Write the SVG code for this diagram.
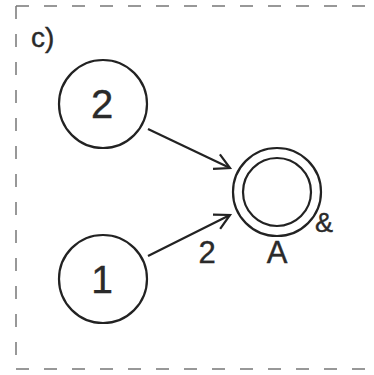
<svg xmlns="http://www.w3.org/2000/svg" width="374" height="375" viewBox="0 0 374 375">
<style>
.node{fill:none;stroke:#222;stroke-width:2.2}
.lbl{font-family:"Liberation Sans",Arial,sans-serif;fill:#2a2a2a;stroke:#2a2a2a;stroke-width:0.4;text-anchor:middle}
.edge{stroke:#222;stroke-width:2.2;fill:none}
.frame{stroke:#777;stroke-width:1.5;fill:none;stroke-dasharray:13 15}
</style>
<defs>
<marker id="arr" viewBox="0 0 20 20" refX="17" refY="10" markerWidth="20" markerHeight="20" markerUnits="userSpaceOnUse" orient="auto">
<polyline points="2,2 17,10 2,18" fill="none" stroke="#222" stroke-width="2.2"/>
</marker>
</defs>
<rect width="374" height="375" fill="#fff"/>
<path class="frame" d="M16,6 H374 M16,369 H374 M16,6 V369"/>
<text class="lbl" x="31" y="47" font-size="28" style="text-anchor:start">c)</text>
<g id="n2">
<circle class="node" cx="103" cy="104" r="44"/>
<text class="lbl" x="102" y="118" font-size="40">2</text>
</g>
<g id="n1">
<circle class="node" cx="103" cy="279" r="44"/>
<text class="lbl" x="102" y="293" font-size="39">1</text>
</g>
<g id="nA">
<circle class="node" cx="277" cy="192" r="44"/>
<circle class="node" cx="277" cy="192" r="34"/>
<text class="lbl" x="277" y="263" font-size="31">A</text>
<text class="lbl" x="324" y="232" font-size="27">&amp;</text>
</g>
<g id="edges">
<line class="edge" x1="148" y1="129" x2="230" y2="168" marker-end="url(#arr)"/>
<line class="edge" x1="148" y1="256" x2="230" y2="215" marker-end="url(#arr)"/>
<text class="lbl" x="207" y="263" font-size="31">2</text>
</g>
</svg>
